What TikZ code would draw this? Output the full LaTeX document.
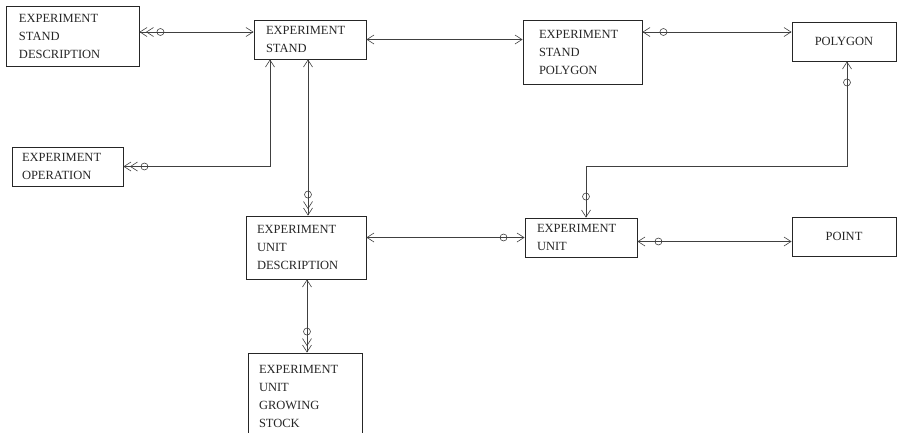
\documentclass[tikz,border=0pt]{standalone}
\usepackage{fontspec}
\setmainfont{Liberation Serif}
\usetikzlibrary{arrows.meta,decorations.markings}
\begin{document}
\begin{tikzpicture}[x=1pt,y=-1pt,
  >={Straight Barb[length=7pt,width=9pt]},
  entity/.style={draw=black!85,line width=0.9pt,text=black!85,
    font=\fontsize{12.5}{18}\selectfont,inner ysep=0pt,minimum height=#1},
  lefttext/.style 2 args={text width=#1,inner xsep=#2,align=left},
  centertext/.style={minimum width=#1,inner xsep=0pt,align=center},
  link/.style={draw=black!75,line width=0.6pt},
  % optional-participation circle near either end
  ringEnd/.style={postaction={decorate,decoration={markings,
    mark=at position -21pt with {\draw[black!75,line width=0.6pt] (0,0) circle (3.5pt);}}}},
  ringStart/.style={postaction={decorate,decoration={markings,
    mark=at position 21pt with {\draw[black!75,line width=0.6pt] (0,0) circle (3.5pt);}}}},
  % second barb for a "many" end
  manyEnd/.style={postaction={decorate,decoration={markings,
    mark=at position -6.5pt with {\arrow[black!75,line width=0.6pt]{>}}}}},
]
\useasboundingbox (0,0) rectangle (898,432);
\clip (0,0) rectangle (898,432);

% entities
\node[entity=60pt,lefttext={107pt}{13pt}] (esd) at (72.5,36) {EXPERIMENT\\STAND\\DESCRIPTION};
\node[entity=39pt,lefttext={88pt}{12pt}] (es) at (310,39.5) {EXPERIMENT\\STAND};
\node[entity=64pt,lefttext={87pt}{16pt}] (esp) at (582.5,52) {EXPERIMENT\\STAND\\POLYGON};
\node[entity=39pt,centertext=104pt] (poly) at (844,41.5) {POLYGON};
\node[entity=39pt,lefttext={91pt}{10pt}] (eo) at (67.5,166.5) {EXPERIMENT\\OPERATION};
\node[entity=63pt,lefttext={98pt}{11pt}] (eud) at (306,247.5) {EXPERIMENT\\UNIT\\DESCRIPTION};
\node[entity=39pt,lefttext={88pt}{12pt}] (eu) at (581,237.5) {EXPERIMENT\\UNIT};
\node[entity=39pt,centertext=104pt] (point) at (844,236.5) {POINT};
\node[entity=87pt,lefttext={92pt}{11pt}] (eugs) at (305,396.5) {EXPERIMENT\\UNIT\\GROWING\\STOCK};

\coordinate (bend) at (586,166);

% relationships
\draw[link,<->,manyEnd,ringEnd] ([yshift=7.5pt]es.west) -- ([yshift=7.5pt]es.west -| esd.east);
\draw[link,<->] (es.east) -- (es.east -| esp.west);
\draw[link,<->,ringEnd] ([yshift=9.5pt]poly.west) -- ([yshift=9.5pt]poly.west -| esp.east);
\draw[link,<->,manyEnd,ringEnd] ([xshift=-40pt]es.south) |- (eo.east);
\draw[link,<->,manyEnd,ringEnd] ([xshift=-2pt]es.south) -- ([xshift=-2pt]es.south |- eud.north);
\draw[link,<->,ringStart,ringEnd] ([xshift=3pt]poly.south) |- (bend) -- ([xshift=5pt]eu.north);
\draw[link,<->,ringStart] (eu.west) -- (eu.west -| eud.east);
\draw[link,<->,ringEnd] ([yshift=-5pt]point.west) -- ([yshift=-5pt]point.west -| eu.east);
\draw[link,<->,manyEnd,ringEnd] ([xshift=1pt]eud.south) -- ([xshift=1pt]eud.south |- eugs.north);
\end{tikzpicture}
\end{document}
